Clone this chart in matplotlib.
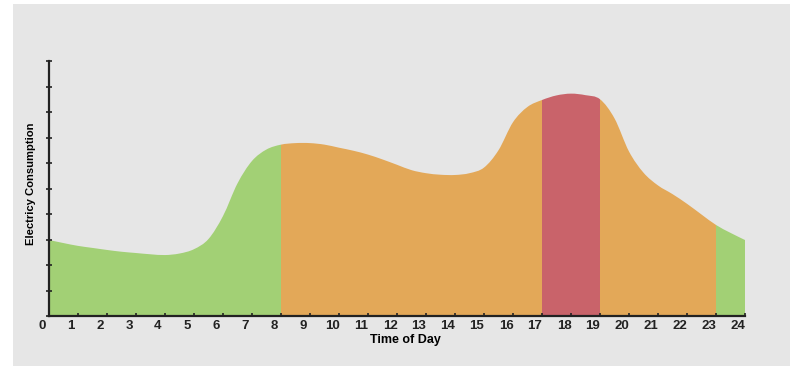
import matplotlib.pyplot as plt
import matplotlib.transforms as mtransforms
from matplotlib.patches import Rectangle, PathPatch
from matplotlib.path import Path
import numpy as np

plt.rcParams['font.family'] = ['Liberation Sans Narrow', 'Liberation Sans', 'DejaVu Sans']

# Hourly profile (half-hour steps)
hours = np.arange(0, 24.5, 0.5)
consumption = [2.98, 2.86, 2.75, 2.67, 2.59, 2.52, 2.47, 2.42, 2.39, 2.45,
               2.62, 3.02, 3.92, 5.20, 6.08, 6.53, 6.72, 6.78, 6.78, 6.72,
               6.60, 6.48, 6.33, 6.14, 5.93, 5.72, 5.60, 5.54, 5.53, 5.60,
               5.82, 6.50, 7.60, 8.20, 8.47, 8.65, 8.72, 8.66, 8.50, 7.75,
               6.45, 5.62, 5.12, 4.78, 4.40, 3.98, 3.57, 3.26, 2.98]

# Tariff periods (start hour, end hour, colour)
periods = [(0, 8, '#a2d075'), (8, 17, '#e3a858'), (17, 19, '#c9636a'),
           (19, 23, '#e3a858'), (23, 24, '#a2d075')]
tick_labels = [str(h) for h in range(25)]

fig = plt.figure(figsize=(8.01, 3.69), dpi=100)
fig.patch.set_facecolor('white')
fig.add_artist(Rectangle((13 / 801, 3 / 369), 777 / 801, 362 / 369,
                         transform=fig.transFigure, facecolor='#e6e6e6',
                         edgecolor='none', zorder=0))

ax = fig.add_axes([49 / 801, 53 / 369, 696 / 801, 255 / 369])
ax.set_facecolor('none')

# smooth outline through the points (Catmull-Rom as cubic Bezier segments)
x = np.array(hours, dtype=float)
y = np.array(consumption, dtype=float)
pts = np.column_stack([x, y])
verts = [(x[0], 0), tuple(pts[0])]
codes = [Path.MOVETO, Path.LINETO]
n = len(pts)
for i in range(n - 1):
    p0 = pts[max(i - 1, 0)]
    p1 = pts[i]
    p2 = pts[i + 1]
    p3 = pts[min(i + 2, n - 1)]
    c1 = p1 + (p2 - p0) / 6
    c2 = p2 - (p3 - p1) / 6
    verts += [tuple(c1), tuple(c2), tuple(p2)]
    codes += [Path.CURVE4] * 3
verts += [(x[-1], 0), (x[0], 0)]
codes += [Path.LINETO, Path.CLOSEPOLY]
area = PathPatch(Path(verts, codes), facecolor='none', edgecolor='none',
                 transform=ax.transData)
ax.add_patch(area)

for start, end, color in periods:
    span = ax.axvspan(start, end, color=color, linewidth=0, zorder=1)
    span.set_clip_path(area)

ax.set_xlim(0, 24)
ax.set_ylim(0, 10)
ax.spines['top'].set_visible(False)
ax.spines['right'].set_visible(False)
for s in ['left', 'bottom']:
    ax.spines[s].set_color('#222222')
    ax.spines[s].set_linewidth(1.6)
    ax.spines[s].set_zorder(3)

ax.set_yticks(range(11))
ax.set_yticklabels([])
ax.tick_params(axis='y', direction='inout', length=5, width=1.2, color='#222222')
ax.set_xticks(range(25))
ax.set_xticklabels(tick_labels, fontsize=9.5, fontweight='bold', color='#222222')
ax.tick_params(axis='x', direction='in', length=2.5, width=1.2, color='#222222', pad=3)
offset = mtransforms.ScaledTranslation(-7 / 100, 0, fig.dpi_scale_trans)
for lab in ax.get_xticklabels():
    lab.set_transform(lab.get_transform() + offset)

ax.set_xlabel('Time of Day', fontsize=9, fontweight='bold')
ax.xaxis.set_label_coords(0.512, -0.072)
ax.set_ylabel('Electricy Consumption', fontsize=8.1, fontweight='bold')
ax.yaxis.set_label_coords(-0.019, 0.518)

plt.savefig('out.png', dpi=100)
